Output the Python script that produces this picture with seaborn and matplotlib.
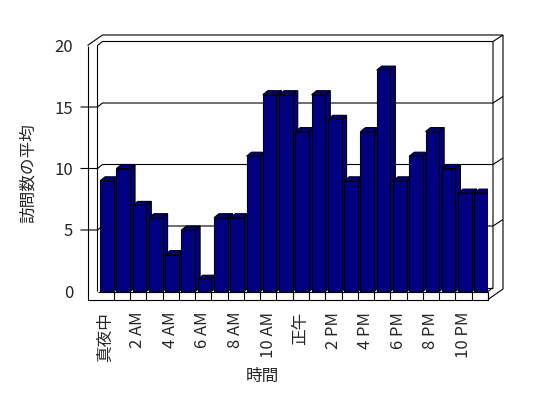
import matplotlib
matplotlib.use("Agg")
import matplotlib.pyplot as plt
import seaborn as sns
from matplotlib.patches import Polygon

# average visits per hour of the day
hours = ["真夜中", "1 AM", "2 AM", "3 AM", "4 AM", "5 AM", "6 AM", "7 AM",
         "8 AM", "9 AM", "10 AM", "11 AM", "正午", "1 PM", "2 PM", "3 PM",
         "4 PM", "5 PM", "6 PM", "7 PM", "8 PM", "9 PM", "10 PM", "11 PM"]
visits = [9, 10, 7, 6, 3, 5, 1, 6, 6, 11, 16, 16,
          13, 16, 14, 9, 13, 18, 9, 11, 13, 10, 8, 8]
y_ticks = [0, 5, 10, 15, 20]
x_label = "時間"
y_label = "訪問数の平均"

sns.set_style("white")
plt.rcParams["font.family"] = ["Noto Sans CJK JP", "DejaVu Sans"]

W, H = 548, 398
fig = plt.figure(figsize=(W / 100, H / 100), dpi=100)

# front face of the plot floor, pixels from the top-left corner
left, right, top, bottom = 97.5, 488.0, 45.5, 291.5
ax = fig.add_axes([left / W, 1 - bottom / H, (right - left) / W, (bottom - top) / H])
ax.set_facecolor("none")

bar_w = 0.84
sns.barplot(x=hours, y=visits, color="#000080", saturation=1, width=bar_w,
            edgecolor="black", linewidth=0.8, ax=ax)

x0, x1 = -1 + bar_w / 2, len(hours) - 1 + bar_w / 2
ymax = y_ticks[-1]
ax.set_xlim(x0, x1)
ax.set_ylim(0, ymax)
ux = (right - left) / (x1 - x0)   # px per category
uy = (bottom - top) / ymax        # px per unit

dx, dy = 5 / ux, 4 / uy           # depth of the bars / inner walls
ox, oy = 15 / ux, 10.5 / uy       # depth of the outer box
wall = 10 / ux                    # left wall thickness
floor_t = 8 / uy                  # floor thickness
tick = 7 / ux

# 3d look for the bars: top and right side
for i, p in enumerate(ax.patches):
    xl, w, h = p.get_x(), p.get_width(), p.get_height()
    z = 3 + i * 0.1
    p.set_zorder(z + 0.05)
    top_face = Polygon([(xl, h), (xl + w, h), (xl + w + dx, h + dy), (xl + dx, h + dy)],
                       closed=True, fc="#000080", ec="black", lw=0.8, zorder=z + 0.02)
    side_face = Polygon([(xl + w, 0), (xl + w + dx, dy), (xl + w + dx, h + dy), (xl + w, h)],
                        closed=True, fc="#000080", ec="black", lw=0.8, zorder=z + 0.02)
    ax.add_patch(top_face)
    ax.add_patch(side_face)


def line(xs, ys, z=1):
    ax.plot(xs, ys, color="black", lw=0.8, clip_on=False, zorder=z, solid_capstyle="butt")


# box frame
line([x0 - wall, x0 - wall, x1, x1], [ymax, -floor_t, -floor_t, 0], z=10)
line([x1, x1 + ox, x1 + ox], [-floor_t, -floor_t + oy, ymax + oy])
line([x0 - wall, x0 - wall + ox, x1 + ox], [ymax, ymax + oy, ymax + oy])
line([x0, x0, x0 + dx, x1 + dx, x1 + dx], [0, ymax, ymax + dy, ymax + dy, dy])
line([x1 + dx, x1 + ox], [ymax + dy, ymax + oy])
line([x0, x1], [0, 0], z=10)
line([x0 + dx, x1 + dx], [dy, dy])
line([x1, x1 + dx], [0, dy])
for k in range(len(hours)):
    line([x0 + k + 1, x0 + k + 1], [0, -floor_t], z=10)

# gridlines across the left wall and back wall
for v in y_ticks[1:-1]:
    line([x0 - wall - tick, x0, x0 + dx, x1 + dx, x1 + ox], [v, v, v + dy, v + dy, v + oy])

ax.set_yticks(y_ticks)
ax.set_yticklabels([str(v) for v in y_ticks])
ax.set_xticks([i - 0.1 for i in range(0, len(hours), 2)])
ax.set_xticklabels(hours[::2], rotation=90, va="top")
ax.tick_params(axis="y", length=0, pad=17.6, labelsize=12)
ax.tick_params(axis="x", length=0, pad=14.5, labelsize=12)
sns.despine(ax=ax, left=True, bottom=True)

fig.text(262 / W, 1 - 376 / H, x_label, ha="center", va="center", fontsize=12)
fig.text(28 / W, 1 - 173 / H, y_label, ha="center", va="center", rotation=90, fontsize=12)

fig.savefig("out.png", dpi=100)
